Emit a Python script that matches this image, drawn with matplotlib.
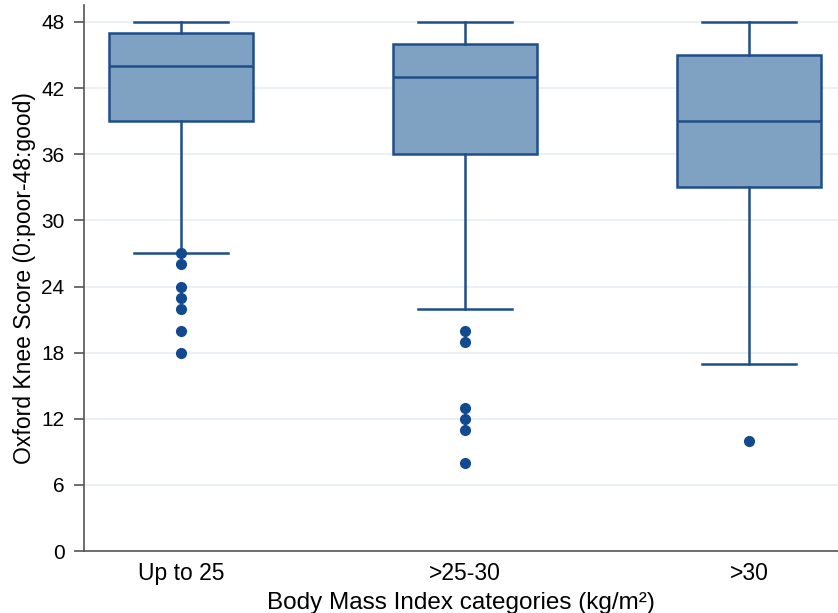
import matplotlib
matplotlib.use("Agg")
import matplotlib.pyplot as plt

# data
categories = ["Up to 25", ">25-30", ">30"]
q1 = [39, 36, 33]
medians = [44, 43, 39]
q3 = [47, 46, 45]
whisk_lo = [27, 22, 17]
whisk_hi = [48, 48, 48]
outliers = [
    [27, 26, 24, 23, 22, 20, 18],
    [20, 19, 13, 12, 11, 8],
    [10],
]

box_fill = "#7fa2c3"
box_edge = "#1f4e8a"
dot_color = "#124a8f"

plt.rcParams["font.family"] = ["Liberation Sans", "DejaVu Sans"]

fig = plt.figure(figsize=(8.38, 6.13), dpi=100)
ax = fig.add_axes([0.1002, 0.1011, 0.8998, 0.8900])

stats = []
for i in range(len(categories)):
    stats.append({
        "label": categories[i],
        "q1": q1[i], "med": medians[i], "q3": q3[i],
        "whislo": whisk_lo[i], "whishi": whisk_hi[i],
        "fliers": outliers[i],
    })

ax.bxp(stats, positions=[1, 2, 3], widths=0.505, patch_artist=True,
       showfliers=True,
       boxprops=dict(facecolor=box_fill, edgecolor=box_edge, linewidth=1.8),
       medianprops=dict(color=box_edge, linewidth=1.8),
       whiskerprops=dict(color=box_edge, linewidth=1.8),
       capprops=dict(color=box_edge, linewidth=1.8),
       capwidths=0.33,
       flierprops=dict(marker="o", markersize=7, markerfacecolor=dot_color,
                       markeredgecolor=dot_color))

ax.set_xlim(0.658, 3.313)
ax.set_ylim(0, 49.5)
ax.set_yticks(range(0, 49, 6))
ax.yaxis.grid(True, color="#e6eef2", linewidth=1.2)
ax.set_axisbelow(True)

for s in ["top", "right"]:
    ax.spines[s].set_visible(False)
for s in ["left", "bottom"]:
    ax.spines[s].set_color("#555555")
    ax.spines[s].set_linewidth(1.2)

ax.tick_params(axis="y", labelsize=15, length=7, color="#555555", width=1.2, pad=7)
ax.tick_params(axis="x", labelsize=16.5, length=0, pad=8)
ax.set_ylabel("Oxford Knee Score (0:poor-48:good)", fontsize=16.5, labelpad=4)
ax.set_xlabel("Body Mass Index categories (kg/m²)", fontsize=17.5, labelpad=5)

fig.savefig("out.png", dpi=100)
